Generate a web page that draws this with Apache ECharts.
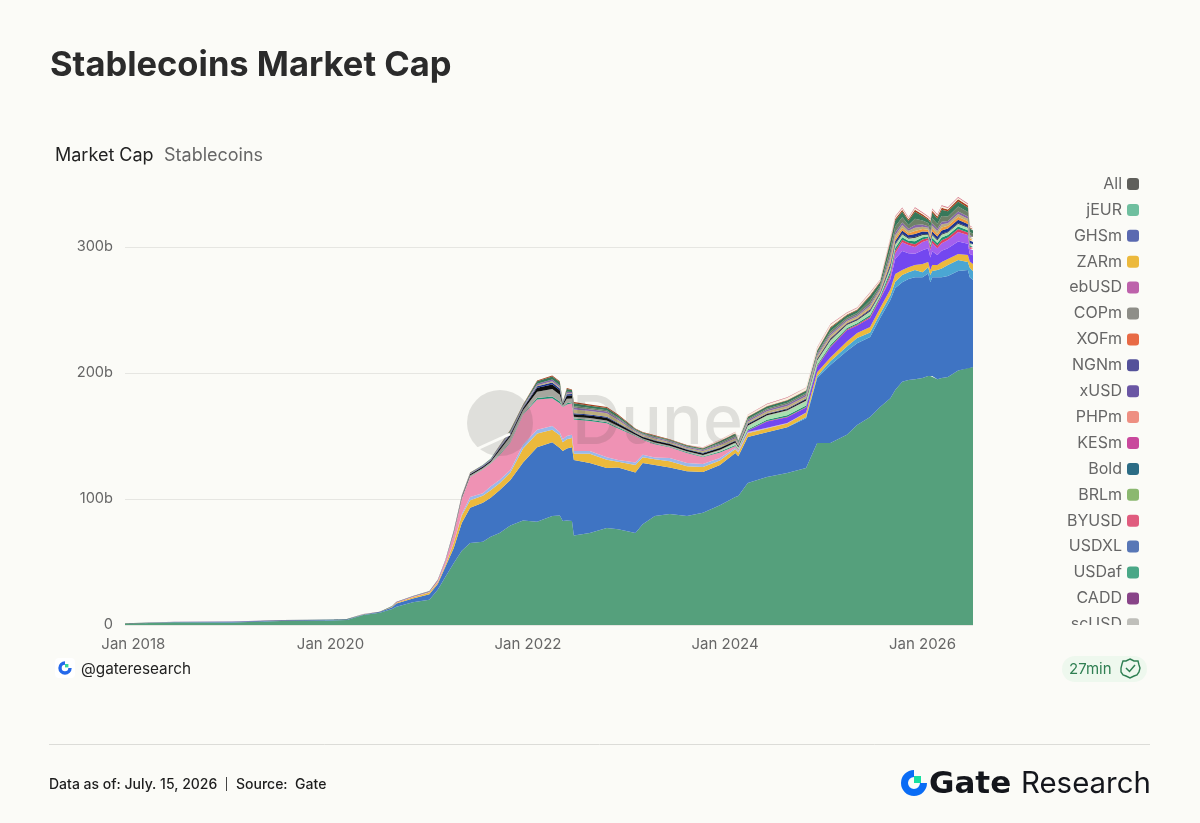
<!DOCTYPE html>
<html><head><meta charset="utf-8">
<style>html,body{margin:0;padding:0;background:#fbfbf7}#c{width:1200px;height:823px}</style>
<script src="https://cdn.jsdelivr.net/npm/echarts@6/dist/echarts.min.js"></script>
</head><body><div id="c"></div>
<script>
const dates=['2017-12-01','2018-06-01','2019-01-01','2019-07-01','2020-01-01','2020-03-01','2020-05-01','2020-07-01','2020-08-16','2020-09-01','2020-11-01','2021-01-01','2021-02-01','2021-03-01','2021-04-01','2021-05-01','2021-06-01','2021-07-18','2021-08-16','2021-09-18','2021-10-28','2021-12-14','2022-02-04','2022-04-01','2022-04-29','2022-05-10','2022-05-25','2022-06-13','2022-06-20','2022-08-18','2022-10-20','2022-12-01','2023-02-03','2023-03-02','2023-04-16','2023-06-10','2023-08-13','2023-10-11','2023-12-13','2024-02-08','2024-02-19','2024-03-25','2024-06-04','2024-08-18','2024-10-27','2024-12-07','2025-01-25','2025-03-27','2025-05-04','2025-06-21','2025-07-28','2025-09-04','2025-09-22','2025-10-18','2025-11-10','2025-12-04','2026-01-01','2026-01-22','2026-01-30','2026-02-06','2026-02-25','2026-03-13','2026-04-05','2026-05-13','2026-06-18','2026-06-25','2026-07-07'];
const usdt=[1,2.2,2,3.2,3.5,4,7.9,9.7,12.7,14.5,18,20,28,38,49,59,65,66,70,73,79,83,82,86.5,87,82.5,83,82.5,71,73,77,76,73,80,86.5,88,86.5,89,95,101.6,102.4,112.7,117.5,120.6,124.6,144.4,144.4,151,158.7,165,173,180,186.5,193,194.4,195,196,197.6,197.6,197.6,195,196,196.8,202,204,204,204.8];
const usdc=[0,.1,.3,.4,.4,.4,.5,.6,1.3,2.5,3,4.5,4.5,8,12,22,28,31,31,34,36,46,59,58.5,53.5,55.5,57,58.5,60,55.5,47.6,49,48,48.6,40.5,37,35.5,32.4,32,35,31.6,36.5,35.5,36.4,39.4,51.6,62,66.5,65,63.6,70.6,78,81,79,80.2,81,80,81.4,74.4,78.4,81,80,80.2,79,77.7,72,69];
const tealCoin=[0,0,0,0,0,0,0,0,0,0,0,0,0,0,0,0,0,0,0,0,0,0,0,0,0,0,0,0,0,0,0,0,0,0,0,0,0,0,0,0,0,0,0,0,1,1.5,3,3.5,4,3.5,3.5,3.5,5,5.8,5.4,5.7,4,5,5.8,5,5.7,7,8.7,8.7,6.3,7.5,7.2];
const dai=[0,0,0,0,0,0,.1,.1,.5,.6,1,1.2,1.2,1.5,4,6,6,5.5,6,5.5,6,11,11,10,10,7,7.5,7.5,5,7.5,6.5,4.5,6,4.5,4.5,5,4,4,3.5,3,3,3,3,3,3.5,3,3,4,4,4.5,4.5,5,6,4,4,4,6.5,4,3.9,4.7,4,5,4.8,4.7,5.6,5,5.5];
const periCoin=[0,0,0,0,0,0,0,0,.1,.1,.1,.2,.2,.3,.3,1,2.5,2,3,2.5,2,3,3,3,2.5,2.5,2.5,2.5,2,2,2,1.5,2,2,1.5,2.5,2.6,2.4,2,1,1,.5,.3,.2,.1,0,0,0,0,0,0,0,0,0,0,0,0,0,0,0,0,0,0,0,0,0,0];
const busd=[0,0,0,0,0,0,0,0,.1,.4,.5,.5,1.4,3,7,12,16,19,18,20,22,24,24,22,23,25.5,25,25,25,24,27,25,21,12,10.5,8.5,8,5.5,4.5,1.5,1,.5,.3,.2,.1,0,0,0,0,0,0,0,0,0,0,0,0,0,0,0,0,0,0,0,0,0,0];
const usdeDeep=[0,0,0,0,0,0,0,0,0,0,0,0,0,0,0,0,0,0,0,0,0,0,0,0,0,0,0,0,0,0,0,0,0,0,0,0,0,0,0,0,0,1,5,4.5,4,4.5,8,9,6,7,7,8,12,15,11,9,11,11,10,11,8,9,8.5,10,9,6,7];
const usdeLight=[0,0,0,0,0,0,0,0,0,0,0,0,0,0,0,0,0,0,0,0,0,0,0,0,0,0,0,0,0,0,0,0,0,0,0,0,0,0,0,0,0,0,0,0,0,0,0,0,0,0,0,2,4.5,7,6.6,5.3,6.5,6.5,5.9,6.3,5.3,6,6.5,7.6,6.9,4,4];
const redCoin=[0,0,0,0,0,0,0,0,0,0,0,0,0,0,0,0,0,0,0,0,0,0,0,0,0,0,0,0,0,0,0,0,0,0,0,0,0,0,0,0,0,.2,.3,.4,.4,.5,.7,.8,.8,1,1,2,2,2,1.8,2.2,2,1.6,2,2.1,2.1,2.3,2.1,2.2,2,1.5,1.5];
const greenStripe=[0,0,0,0,0,0,0,0,0,0,0,0,0,0,.1,.1,.2,.2,.2,.5,.6,.5,1.2,1.4,1.3,.3,1,.8,.8,.8,.8,.7,.4,.4,.5,.5,.5,.5,.6,.7,.5,.8,1,1.1,1.1,1.1,1.2,1,1,1.4,1.1,2.4,2.3,2,1.6,2.4,1.7,1.3,1.8,2,2,2.2,1.9,2,1.8,1.3,1.3];
const paleGreen=[0,0,0,0,0,0,0,0,0,0,0,0,0,0,0,0,0,0,0,0,0,0,0,0,0,0,0,0,0,0,0,0,0,0,0,0,0,.4,.6,1.2,.9,2.5,3,3.4,3.4,3,3.2,2,2,2.6,1.7,2.5,2.3,2,1.5,2.3,1.6,1.3,1.7,2,1.9,2.1,1.8,1.9,1.7,1.3,1.2];
const grayCoin=[0,0,0,0,0,0,0,0,0,0,0,0,.1,.1,.8,.9,1,1,1.2,3,4,3,5,6,5.5,1,3.5,3,1.5,1.5,1.5,1.2,.6,.6,.8,.8,.7,.8,.9,.8,.6,.7,.6,.6,.6,.5,.5,.4,.4,.4,.3,.5,.5,.4,.3,.4,.3,.3,.3,.4,.4,.4,.4,.4,.4,.3,.3];
const blackCoin=[.1,.1,.1,.1,.1,.1,.1,.1,.1,.1,.1,.1,.1,.1,.7,.8,.9,.9,1,1.5,1.5,1.5,3,3.5,3.5,1,2.5,2.5,2,2,2,1.8,1.2,1.2,1.4,1.3,1.2,1.2,1.3,1.2,.9,1,.9,.9,.9,.8,.8,.6,.6,.7,.5,.8,.7,.6,.5,.6,.5,.4,.5,.6,.6,.6,.5,.5,.5,.4,.4];
const navyCoin=[0,0,.1,.1,.1,0,0,0,0,.1,.1,.1,.1,.1,.2,.2,.3,.3,.3,.7,.8,.6,1.2,1.5,1.4,.3,1.2,1,.8,.8,.8,.7,.4,.4,.5,.5,.4,.5,.5,.5,.4,.5,.5,.6,.6,.6,.7,.6,.6,.9,.8,2,2,2.2,2,2.4,2.2,1.8,2.2,2.3,2.3,2.5,2.4,2.6,2.4,1.8,1.7];
const orangeCoin=[0,0,0,0,0,0,0,0,0,0,0,0,0,0,0,0,0,0,0,0,0,0,0,0,0,0,0,0,0,0,0,0,0,0,0,0,0,0,0,0,0,0,.2,.3,.3,.4,.6,.6,.6,.9,.8,2,2,2,1.7,2.4,1.9,1.5,2,2.2,2.1,2.4,2.2,2.4,2.2,1.6,1.5];
const tanCoin=[0,0,0,0,0,0,0,0,0,0,0,0,0,0,.1,.1,.1,.1,.2,.4,.5,.4,.8,1,.9,.2,.8,.6,3,2.8,2.8,2.2,1,1,1.3,1.2,1.1,1.4,1.8,1.8,1.2,1.5,1.5,1.6,1.6,1.6,1.8,1.3,1.3,1.9,1.4,2.8,2.6,2.4,1.8,2.6,1.9,1.5,2,2.3,2.2,2.5,2.1,2.2,2,1.5,1.4];
const mauveCoin=[.1,.1,.2,.1,.1,.1,.1,.1,.1,.1,.1,.2,.2,.3,.4,.4,.5,.5,.5,.8,1,.8,1.3,1.5,1.4,.4,1.2,1,1.5,1.4,1.4,1.2,.7,.7,.8,.7,.7,.8,.9,1,.7,1.1,1.2,1.3,1.3,1.3,1.5,1.2,1.2,1.6,1.2,2.4,2.2,2,1.6,2.2,1.7,1.3,1.8,2,1.9,2.1,1.8,1.9,1.7,1.3,1.2];
const oliveCoin=[0,0,0,0,0,0,0,0,0,0,0,0,0,0,0,0,0,0,0,0,0,0,0,0,0,0,0,0,1.2,1,1,.9,.5,.5,.4,.4,.4,.4,1,1,.8,1,1,1.2,1.2,1.1,1.8,1.3,1.4,2.6,1.8,5,4.6,4.2,3,5,3.2,2.5,3.6,4,4,4.5,3.6,4,3.5,2.5,2.5];
const forestCoin=[.1,.1,.1,.1,.1,.1,.1,0,.1,.1,.2,.2,.2,.2,.2,.3,.4,.4,.5,.3,1.2,.9,1.9,2.4,2.8,.6,2.2,1.6,2.2,1.8,1.8,1.5,.8,.8,.8,.7,.8,.8,1.3,1.5,1.2,1.6,1.7,1.8,1.8,1.8,2.6,2,2.2,3.6,2.7,5.2,4.8,4.5,3.4,5.4,3.6,2.8,4,4.4,4.2,5,4,4.1,3.7,2.6,2.6];
const rustCoin=[0,0,0,0,0,0,0,0,0,0,0,0,0,0,.1,.1,.1,.1,.1,.3,.4,.3,.6,.7,.7,.2,.6,.5,1,.9,.9,.8,.4,.4,.5,.4,.4,.4,.4,.4,.3,.4,.4,.5,.5,.6,.7,.6,.6,.8,.7,1.5,1.5,1.5,1.2,1.7,1.3,1.1,1.4,1.5,1.5,1.6,1.5,1.6,1.5,1.1,1];
const creamCoin=[0,0,0,0,0,0,0,0,0,0,0,0,0,0,0,0,0,0,0,0,0,0,0,0,0,0,0,0,0,0,0,0,0,0,0,0,0,.3,.6,.9,.6,1.2,1.3,1.8,1.8,1.7,1.9,1.2,1.2,1.6,1,1.4,1.3,1.2,1,1.4,1.1,.9,1.1,1.2,1.2,1.3,1.2,1.2,1.1,.8,.8];
const roseCoin=[0,0,0,0,0,0,0,0,0,0,0,0,0,0,0,0,0,0,0,0,0,0,0,0,0,0,0,0,0,0,0,0,0,0,0,0,0,.2,.2,.2,.2,.2,.3,.3,.3,.4,.4,.4,.4,.5,.5,.6,.6,.6,.6,.6,.6,.6,.6,.6,.6,.6,.6,.6,.6,.5,.5];

const legendNames=['All','jEUR','GHSm','ZARm','ebUSD','COPm','XOFm','NGNm','xUSD','PHPm','KESm','Bold','BRLm','BYUSD','USDXL','USDaf','CADD','scUSD'];
const legendColors=['#5f5f5b','#6fbf9f','#5a69b0','#ecb93c','#bd62ab','#8e8e88','#e86a45','#54519a','#6a56a4','#ee8f82','#c9489c','#2c6c85','#8bb870','#e05c7e','#5877b6','#4aa887','#884488','#bfbfba'];
const tickDates=['2018-01-01','2020-01-01','2022-01-01','2024-01-01','2026-01-01'];
const tickLabels=['Jan 2018','Jan 2020','Jan 2022','Jan 2024','Jan 2026'];

const ms=d=>+echarts.time.parse(d);
const tickMs=tickDates.map(ms);
const layers=[
 ['USDT',usdt,'#55a07c'],['USDC',usdc,'#3f74c3'],['USD1',tealCoin,'#4ba6d3'],['DAI',dai,'#ecb93c'],
 ['TUSD',periCoin,'#9ab8ea'],['BUSD',busd,'#ef92b4'],['USDe',usdeDeep,'#7347f0'],['USDS',usdeLight,'#a460ee'],
 ['RLUSD',redCoin,'#e23e63'],['USDG',greenStripe,'#1f8f72'],['FDUSD',paleGreen,'#a8e0ae'],['USDP',grayCoin,'#a6a69e'],
 ['UST',blackCoin,'#0e0e0e'],['PYUSD',navyCoin,'#1c3490'],['BUIDL',orangeCoin,'#f09a3c'],['FRAX',tanCoin,'#bcae7c'],
 ['LUSD',mauveCoin,'#8667a8'],['GUSD',oliveCoin,'#6f8068'],['USDD',forestCoin,'#37785a'],['crvUSD',rustCoin,'#a5401f'],
 ['GHO',creamCoin,'#f8efdc'],['USD0',roseCoin,'#cf5f78']
];
const series=layers.map(([name,vals,color])=>({
  name,type:'line',stack:'cap',showSymbol:false,symbol:'none',xAxisIndex:0,
  data:dates.map((d,i)=>[d,vals[i]]),
  lineStyle:{width:0},itemStyle:{color},areaStyle:{color,opacity:1}
}));
legendNames.forEach((name,i)=>series.push({name,type:'line',xAxisIndex:0,data:[],showSymbol:false,itemStyle:{color:legendColors[i]},lineStyle:{width:0}}));

const F='Inter, "Noto Sans", sans-serif';
const txt=(x,y,text,size,color,weight,family)=>({type:'text',z:60,style:{x,y,text,fill:color,font:`${weight||400} ${size}px ${family||F}`,textVerticalAlign:'middle',textBaseline:'middle'}});
const ring=(cx,cy,r,w,color)=>({type:'arc',z:60,shape:{cx,cy,r,startAngle:-Math.PI/2,endAngle:0,clockwise:false},style:{stroke:color,lineWidth:w,fill:null}});

const chart=echarts.init(document.getElementById('c'),null,{renderer:'canvas'});
chart.setOption({
  animation:false,backgroundColor:'#fbfbf7',
  grid:{left:125,top:121,width:848,height:504},
  xAxis:[
   {type:'time',min:dates[0],max:dates[dates.length-1],axisLine:{show:false},axisTick:{show:false},splitLine:{show:false},axisLabel:{show:false}},
   {type:'value',position:'bottom',min:ms(dates[0]),max:ms(dates[dates.length-1]),scale:true,
    axisLine:{show:false},axisTick:{show:false},splitLine:{show:false},
    axisLabel:{customValues:tickMs,formatter:v=>tickLabels[tickMs.indexOf(v)],color:'#666',fontSize:15,fontFamily:F,margin:12,hideOverlap:false}}
  ],
  yAxis:{type:'value',min:0,max:400,interval:100,
    axisLine:{show:false},axisTick:{show:false},
    splitLine:{show:true,showMaxLine:false,lineStyle:{color:'#e6e6e2',width:1}},
    axisLabel:{showMaxLabel:false,formatter:v=>v===0?'0':v+'b',color:'#666',fontSize:14.6,fontFamily:F,margin:12}},
  legend:{data:legendNames,orient:'vertical',align:'right',right:56,top:171,itemWidth:12,itemHeight:12,itemGap:9.9,icon:'roundRect',selectedMode:false,
    textStyle:{color:'#666',fontSize:16,fontFamily:F}},
  series,
  graphic:[
    {type:'circle',z:50,shape:{cx:500,cy:423,r:33},style:{fill:'rgba(70,70,60,0.15)'}},
    {type:'line',z:51,shape:{x1:477,y1:449,x2:510,y2:434},style:{stroke:'#fbfbf7',lineWidth:3}},
    txt(572,424,'Dune',68,'rgba(70,70,60,0.15)',500),
    {type:'rect',z:70,shape:{x:1040,y:625,width:110,height:16},style:{fill:'#fbfbf7'}},
    txt(50,66,'Stablecoins Market Cap',34.5,'#2b2b2b',700),
    txt(55,156,'Market Cap',18,'#222',400),
    txt(164,156,'Stablecoins',18,'#666',400),
    {type:'rect',z:59,shape:{x:55,y:658,width:20,height:20,r:4},style:{fill:'#ffffff'}},
    ring(65,668,5,3.4,'#2468ea'),
    {type:'rect',z:61,shape:{x:65,y:664,width:3.4,height:3.4},style:{fill:'#35d79a'}},
    txt(81,669,'@gateresearch',15.3,'#222',400),
    {type:'rect',z:59,shape:{x:1062,y:656,width:85,height:26,r:13},style:{fill:'#eef8ee'}},
    txt(1069,669,'27min',15,'#2f7f52',400),
    {type:'polygon',z:60,shape:{points:[[1130,659],[1134,661],[1138,661],[1139,665],[1140,668],[1139,672],[1137,675],[1134,676],[1130,678],[1126,676],[1123,675],[1121,672],[1121,668],[1122,664],[1123,661],[1126,661]]},style:{fill:null,stroke:'#2f7f52',lineWidth:1.4}},
    {type:'polyline',z:60,shape:{points:[[1126,668],[1129.5,671.5],[1135,665]]},style:{stroke:'#2f7f52',lineWidth:1.5,fill:null}},
    {type:'line',z:60,shape:{x1:49,y1:744.5,x2:1150,y2:744.5},style:{stroke:'#dcdcd8',lineWidth:1}},
    txt(49,785,'Data as of: July. 15, 2026',14,'#1d1d1d',500),
    {type:'line',z:60,shape:{x1:226.5,y1:777,x2:226.5,y2:791},style:{stroke:'#444',lineWidth:1}},
    txt(236,785,'Source:  Gate',14,'#1d1d1d',500),
    ring(914,783,9.5,7,'#0a6cf5'),
    {type:'rect',z:61,shape:{x:914,y:776,width:7,height:7},style:{fill:'#17e0a0'}},
    txt(929,785,'Gate',31,'#14161c',700,'"DejaVu Sans"'),
    txt(1021,784,'Research',29.4,'#14161c',400)
  ]
});
</script></body></html>
